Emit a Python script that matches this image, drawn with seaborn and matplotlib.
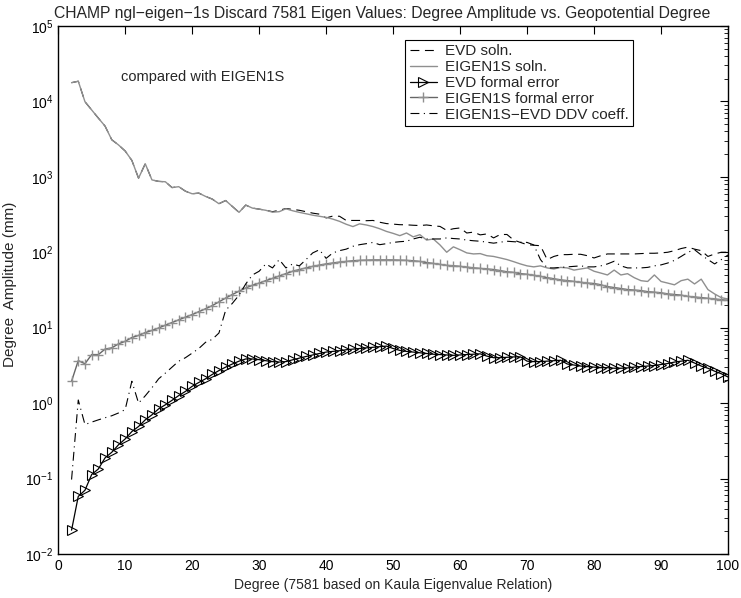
import numpy as np
import pandas as pd
import seaborn as sns
import matplotlib
matplotlib.use("Agg")
import matplotlib.pyplot as plt
from matplotlib.ticker import LogLocator, FixedLocator

# Degree 2..100
degree = list(range(2, 101))

eigen1s_soln = [
    17700, 18500, 9900, 7700, 6000, 4700, 3100, 2650, 2200, 1650,
    960, 1490, 910, 870, 860, 720, 740, 645, 596, 608,
    550, 507, 440, 485, 405, 338, 422, 385, 373, 360,
    340, 345, 377, 355, 338, 324, 310, 300, 290, 275,
    257, 235, 219, 238, 230, 219, 205, 189, 178, 166,
    180, 160, 171, 145, 150, 125, 100, 118, 108, 98,
    95, 96, 90, 88, 84, 80, 75, 70, 66, 64,
    66, 62, 60, 63, 62, 58, 60, 62, 56, 53,
    50, 58, 50, 52, 46, 42, 41, 50, 41, 39,
    37, 42, 44, 38, 44, 32, 28, 25, 24]

evd_soln = [
    17700, 18500, 9900, 7700, 6000, 4700, 3100, 2650, 2200, 1650,
    960, 1490, 910, 870, 860, 720, 740, 645, 596, 608,
    550, 507, 440, 485, 405, 338, 422, 385, 373, 360,
    345, 360, 380, 370, 360, 345, 330, 320, 285, 302,
    300, 264, 264, 264, 262, 264, 250, 240, 236, 232,
    231, 228, 226, 230, 224, 220, 195, 205, 210, 180,
    185, 170, 175, 155, 172, 172, 145, 135, 126, 124,
    122, 80, 88, 93, 93, 94, 94, 90, 84, 90,
    95, 95, 95, 95, 95, 96, 97, 97, 98, 100,
    105, 112, 117, 110, 105, 88, 95, 100, 100]

evd_formal = [
    0.0207, 0.058, 0.07, 0.113, 0.134, 0.188, 0.223, 0.28, 0.335, 0.42,
    0.49, 0.60, 0.70, 0.84, 0.95, 1.09, 1.26, 1.43, 1.67, 1.88,
    2.1, 2.4, 2.7, 3.0, 3.3, 3.6, 3.85, 3.85, 3.77, 3.65,
    3.55, 3.5, 3.55, 3.75, 3.95, 4.15, 4.35, 4.55, 4.75, 4.85,
    4.95, 5.1, 5.2, 5.3, 5.4, 5.5, 5.6, 5.7, 5.3, 5.0,
    4.85, 4.75, 4.65, 4.55, 4.45, 4.4, 4.35, 4.3, 4.35, 4.4,
    4.45, 4.5, 4.2, 4.0, 4.0, 4.05, 4.1, 4.1, 3.6, 3.55,
    3.55, 3.6, 3.65, 3.7, 3.3, 3.2, 3.1, 3.05, 3.0, 2.95,
    2.95, 2.9, 2.9, 2.93, 3.0, 3.05, 3.1, 3.15, 3.25, 3.35,
    3.5, 3.6, 3.7, 3.4, 3.1, 2.9, 2.65, 2.45, 2.22]

eigen1s_formal = [
    1.95, 3.66, 3.33, 4.4, 4.4, 5.2, 5.4, 6.1, 6.6, 7.4,
    7.9, 8.6, 9.2, 9.9, 10.8, 11.7, 12.7, 13.8, 14.9, 16.3,
    17.8, 19.6, 22, 24.7, 27.5, 30.5, 33.6, 36.5, 39, 42,
    45, 48.5, 52, 56, 59, 62, 65, 67.5, 70, 72,
    74, 75.5, 77, 78, 78.5, 79, 79, 79, 79, 78.5,
    78, 77, 75.5, 73, 71, 69, 67, 66, 65, 63.5,
    62, 61, 60, 59, 57, 55, 54, 52, 51, 49.5,
    48, 46, 44.5, 43, 42, 41, 40, 39, 38.5, 37,
    35, 34, 33, 32, 31.5, 31, 30, 29.5, 29, 28,
    27.5, 27, 26, 25.5, 25, 24.5, 24, 23.5, 23]

ddv_coeff = [
    0.097, 1.1, 0.52, 0.56, 0.6, 0.64, 0.68, 0.74, 0.82, 1.95,
    1.0, 1.25, 1.6, 2.1, 2.5, 3.0, 3.6, 4.0, 4.6, 5.3,
    6.4, 7.0, 8.5, 17, 21, 27, 38, 50, 56, 70,
    62, 80, 62, 70, 66, 80, 98, 108, 83, 98,
    105, 110, 120, 126, 130, 135, 126, 130, 135, 138,
    140, 150, 158, 150, 150, 150, 155, 152, 150, 145,
    142, 140, 136, 132, 136, 140, 138, 136, 135, 125,
    80, 62, 62, 63, 64, 65, 66, 64, 64, 66,
    70, 76, 66, 62, 62, 62, 63, 66, 68, 72,
    78, 88, 100, 108, 92, 80, 70, 80, 92]

title = "CHAMP ngl\u2212eigen\u22121s Discard 7581 Eigen Values: Degree Amplitude vs. Geopotential Degree"
xlabel = "Degree (7581 based on Kaula Eigenvalue Relation)"
ylabel = "Degree  Amplitude (mm)"
note = "compared with EIGEN1S"

df = pd.DataFrame({
    "degree": degree,
    "evd_soln": evd_soln,
    "eigen1s_soln": eigen1s_soln,
    "evd_formal": evd_formal,
    "eigen1s_formal": eigen1s_formal,
    "ddv": ddv_coeff,
})

sns.set_theme(style="white")
plt.rcParams['font.family'] = ['Liberation Sans', 'DejaVu Sans']
plt.rcParams['mathtext.fontset'] = 'custom'
plt.rcParams['mathtext.rm'] = 'Liberation Sans'
plt.rcParams['mathtext.it'] = 'Liberation Sans'

fig = plt.figure(figsize=(7.41, 5.98), dpi=100)
ax = fig.add_axes([0.0785, 0.0736, 0.904, 0.883])

sns.lineplot(data=df, x="degree", y="evd_soln", ax=ax, color="black",
             linestyle=(0, (8, 5)), linewidth=0.8, label="EVD soln.")
sns.lineplot(data=df, x="degree", y="eigen1s_soln", ax=ax, color="#8f8f8f",
             linewidth=1.0, label="EIGEN1S soln.")
sns.lineplot(data=df, x="degree", y="evd_formal", ax=ax, color="black",
             linewidth=0.9, marker=">", markersize=7, markerfacecolor="none",
             markeredgecolor="black", markeredgewidth=0.8, label="EVD formal error")
sns.lineplot(data=df, x="degree", y="eigen1s_formal", ax=ax, color="#666666",
             linewidth=1.0, marker="+", markersize=7, markeredgecolor="#8f8f8f",
             markeredgewidth=1.0, label="EIGEN1S formal error")
sns.lineplot(data=df, x="degree", y="ddv", ax=ax, color="black",
             linestyle=(0, (8, 4, 1, 4)), linewidth=0.8,
             label="EIGEN1S\u2212EVD DDV coeff.")

ax.set_yscale("log")
ax.set_xlim(0, 100)
ax.set_ylim(1e-2, 1e5)
ax.xaxis.set_major_locator(FixedLocator(np.arange(0, 101, 10)))
ax.yaxis.set_major_locator(LogLocator(base=10, numticks=10))
ax.yaxis.set_minor_locator(LogLocator(base=10, subs=np.arange(2, 10), numticks=20))
ax.tick_params(axis="both", which="both", direction="in", top=True, right=True,
               labelsize=10, colors="black")
ax.tick_params(which="major", length=6, width=0.8)
ax.tick_params(which="minor", length=3, width=0.6)
for s in ax.spines.values():
    s.set_color("black")
    s.set_linewidth(1.0)

ax.set_title(title, fontsize=11.3, pad=6, x=0.483)
ax.set_xlabel(xlabel, fontsize=10, labelpad=4)
ax.set_ylabel(ylabel, fontsize=11, labelpad=4)
ax.yaxis.set_label_coords(-0.062, 0.51)

ax.text(21.6, 2.1e4, note, fontsize=10.5, ha="center", va="center")

leg = ax.legend(loc="upper left", bbox_to_anchor=(0.518, 0.974), fontsize=11,
                frameon=True, fancybox=False, edgecolor="black", framealpha=1,
                handlelength=1.8, borderpad=0.3, labelspacing=0.12,
                handletextpad=0.5, borderaxespad=0)
leg.get_frame().set_linewidth(0.8)

fig.savefig("out.png", dpi=100)
